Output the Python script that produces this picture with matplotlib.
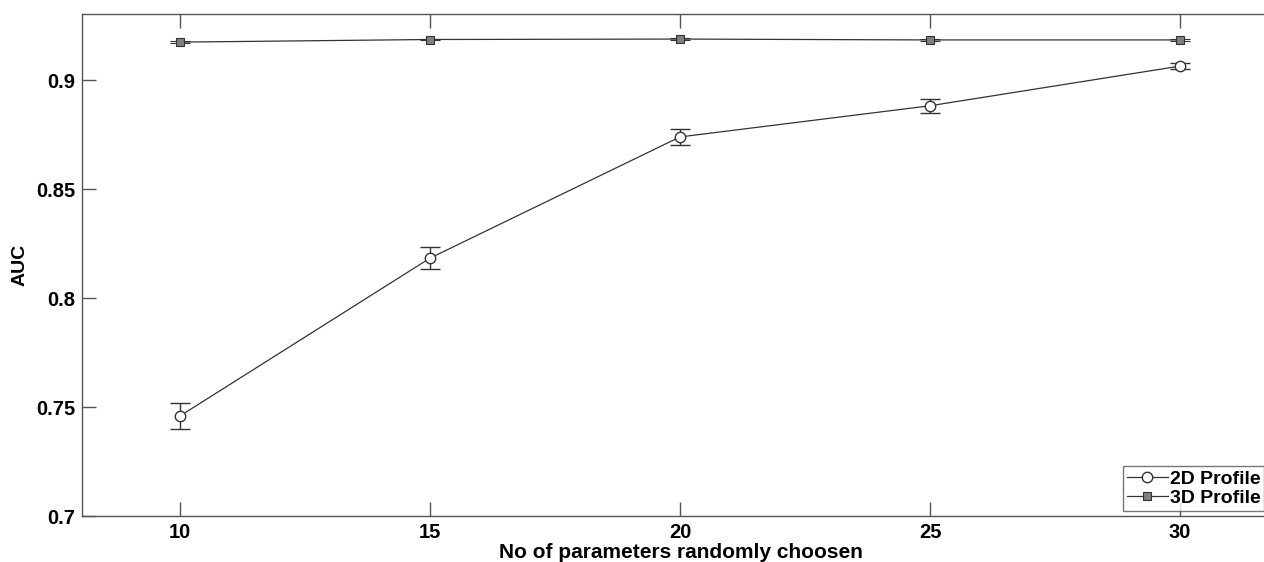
import matplotlib
matplotlib.use("Agg")
import matplotlib.pyplot as plt
from matplotlib.lines import Line2D

x = [10, 15, 20, 25, 30]
auc_2d = [0.7459, 0.8183, 0.8739, 0.8882, 0.9064]
err_2d = [0.0060, 0.0052, 0.0038, 0.0032, 0.0015]
auc_3d = [0.9174, 0.9186, 0.9188, 0.9184, 0.9184]
err_3d = [0.0004, 0.0003, 0.0003, 0.0003, 0.0003]
xticks = [10, 15, 20, 25, 30]
yticks = [0.7, 0.75, 0.8, 0.85, 0.9]
labels = ['2D Profile', '3D Profile']

plt.rcParams['font.family'] = ['Liberation Sans', 'DejaVu Sans']
fig = plt.figure(figsize=(12.64, 5.62), dpi=100)
ax = fig.add_axes([82/1264, 46/562, (1280-82)/1264, (516-14)/562])

lc = '#333333'
ax.errorbar(x, auc_2d, yerr=err_2d, color=lc, lw=0.9, marker='o', ms=7.5,
            mfc='white', mec=lc, mew=1.0, capsize=7, elinewidth=1.0,
            capthick=1.0, ecolor=lc)
ax.errorbar(x, auc_3d, yerr=err_3d, color=lc, lw=0.9, marker='s', ms=5.5,
            mfc='#808080', mec=lc, mew=0.8, capsize=7, elinewidth=1.0,
            capthick=1.0, ecolor=lc)

ax.set_xlim(8.04, 32)
ax.set_ylim(0.7, 0.9303)
ax.set_xticks(xticks)
ax.set_xticklabels([str(t) for t in xticks])
ax.set_yticks(yticks)
ax.set_yticklabels(['0.7', '0.75', '0.8', '0.85', '0.9'])
ax.tick_params(direction='in', length=10, width=1.0, color='#555555',
               top=True, right=True, labelsize=14.5, pad=5)
for lab in ax.get_xticklabels() + ax.get_yticklabels():
    lab.set_fontweight('bold')
for s in ax.spines.values():
    s.set_color('#555555')
    s.set_linewidth(1.0)

ax.set_xlabel('No of parameters randomly choosen', fontsize=15,
              fontweight='bold', labelpad=1)
ax.set_ylabel('AUC', fontsize=14, fontweight='bold', labelpad=5)

handles = [
    Line2D([], [], color=lc, lw=0.9, marker='o', ms=7.5, mfc='white',
           mec=lc, mew=1.0),
    Line2D([], [], color=lc, lw=0.9, marker='s', ms=5.5, mfc='#808080',
           mec=lc, mew=0.8),
]
leg = fig.legend(handles, labels, loc='lower left',
                 prop={'size': 14, 'weight': 'bold'},
                 frameon=True, fancybox=False, handlelength=2.1,
                 handletextpad=0.1, borderpad=0.2, labelspacing=0.1,
                 bbox_to_anchor=(1123/1264, 1 - 511/562), borderaxespad=0.0)
leg.get_frame().set_edgecolor('#555555')
leg.get_frame().set_linewidth(1.0)

fig.savefig('out.png', dpi=100)
